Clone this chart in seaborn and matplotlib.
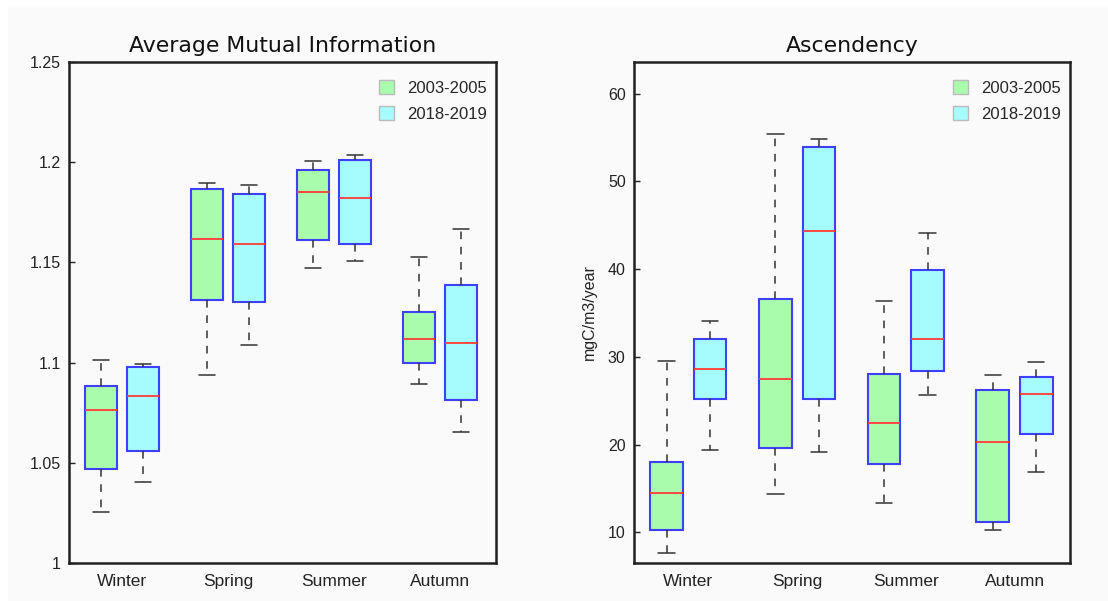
import numpy as np
import pandas as pd
import matplotlib
matplotlib.use("Agg")
import matplotlib.pyplot as plt
from matplotlib.patches import Patch, Rectangle
import seaborn as sns

seasons = ["Winter", "Spring", "Summer", "Autumn"]
periods = ["2003-2005", "2018-2019"]

# five-number summaries [min, q1, median, q3, max] per season
ami_2003 = [[1.0255, 1.047, 1.0763, 1.0885, 1.1015],
            [1.094, 1.131, 1.1615, 1.1865, 1.1897],
            [1.147, 1.161, 1.185, 1.196, 1.2007],
            [1.0893, 1.100, 1.112, 1.1253, 1.1527]]
ami_2018 = [[1.0405, 1.0557, 1.0835, 1.098, 1.0995],
            [1.109, 1.130, 1.159, 1.184, 1.1885],
            [1.1505, 1.159, 1.182, 1.201, 1.2037],
            [1.0655, 1.0813, 1.1098, 1.1387, 1.1665]]
asc_2003 = [[7.64, 10.26, 14.5, 18.0, 29.48],
            [14.33, 19.64, 27.43, 36.6, 55.4],
            [13.37, 17.75, 22.5, 28.06, 36.4],
            [10.23, 11.17, 20.28, 26.2, 27.88]]
asc_2018 = [[19.34, 25.2, 28.56, 32.0, 34.1],
            [19.15, 25.15, 44.35, 53.9, 54.87],
            [25.7, 28.4, 32.0, 39.95, 44.1],
            [16.87, 21.23, 25.79, 27.72, 29.4]]

ami_ticks = [1, 1.05, 1.1, 1.15, 1.2, 1.25]
ami_ticklabels = ["1", "1.05", "1.1", "1.15", "1.2", "1.25"]
asc_ticks = [10, 20, 30, 40, 50, 60]
asc_ticklabels = ["10", "20", "30", "40", "50", "60"]

green = "#a9fcac"
cyan = "#a6fcfc"
edge = "#3f3fff"
med_col = "#ff3a3a"
wcol = "#333333"


def long_frame(a, b):
    rows = []
    for s, va, vb in zip(seasons, a, b):
        for v in va:
            rows.append((s, periods[0], v))
        for v in vb:
            rows.append((s, periods[1], v))
    return pd.DataFrame(rows, columns=["season", "period", "value"])


sns.set_theme(style="white")
plt.rcParams["font.family"] = ["Liberation Sans", "DejaVu Sans"]

fig = plt.figure(figsize=(11.08, 6.01), dpi=100, facecolor="white")
fig.patches.append(Rectangle((8 / 1108, 0), 1 - 8 / 1108, 1 - 7 / 601,
                             transform=fig.transFigure, facecolor="#fafafa",
                             edgecolor="none", zorder=-10))

ax1 = fig.add_axes([69 / 1108, 38 / 601, 427 / 1108, 501 / 601])
ax2 = fig.add_axes([634 / 1108, 38 / 601, 436 / 1108, 501 / 601])

specs = [
    (ax1, long_frame(ami_2003, ami_2018), "Average Mutual Information",
     (1.0, 1.25), ami_ticks, ami_ticklabels, (-0.5, 3.53), None),
    (ax2, long_frame(asc_2003, asc_2018), "Ascendency",
     (6.5, 63.6), asc_ticks, asc_ticklabels, (-0.5, 3.51), "mgC/m3/year"),
]

for ax, df, title, ylim, yt, ytl, xlim, ylab in specs:
    ax.set_facecolor("#fafafa")
    sns.boxplot(data=df, x="season", y="value", hue="period",
                hue_order=periods, order=seasons,
                palette=[green, cyan], saturation=1, whis=(0, 100),
                width=0.8, gap=0.25,
                linewidth=1.5, ax=ax, legend=False,
                boxprops=dict(edgecolor=edge),
                medianprops=dict(color=med_col, linewidth=1.3),
                whiskerprops=dict(color=wcol, linestyle=(0, (5, 5)), linewidth=1.1),
                capprops=dict(color=wcol, linewidth=1.1),
                showfliers=False)
    ax.set_xlim(*xlim)
    ax.set_ylim(*ylim)
    ax.set_yticks(yt)
    ax.set_yticklabels(ytl, fontsize=11.5, color="#222222")
    ax.tick_params(axis="x", labelsize=12.5, colors="#222222", length=0, pad=8)
    ax.tick_params(axis="y", direction="in", length=4, width=1, colors="#222222",
                   left=True, pad=6)
    ax.set_xlabel("")
    if ylab:
        ax.set_ylabel(ylab, fontsize=11.5, color="#222222", labelpad=8)
    else:
        ax.set_ylabel("")
    ax.set_title(title, fontsize=15.8, family=["DejaVu Sans"], color="#111111", pad=7)
    for sp in ax.spines.values():
        sp.set_visible(True)
        sp.set_color("#222222")
        sp.set_linewidth(1.8)
    handles = [Patch(facecolor=green, edgecolor="#bbbbbb", label=periods[0]),
               Patch(facecolor=cyan, edgecolor="#bbbbbb", label=periods[1])]
    ax.legend(handles=handles, loc="upper right", frameon=False, fontsize=12,
              handlelength=0.9, handleheight=0.9, handletextpad=0.8,
              labelspacing=0.62, borderaxespad=0.15,
              bbox_to_anchor=(1.0, 1.0 - 9 / 501))

fig.savefig("out.png", dpi=100, facecolor=fig.get_facecolor())
